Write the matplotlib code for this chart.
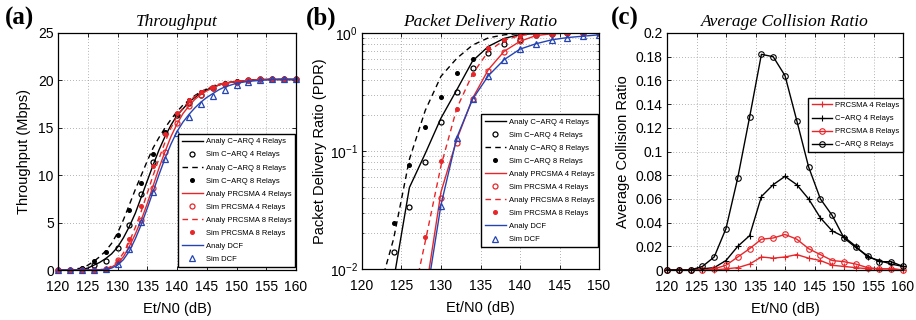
import numpy as np
import matplotlib
matplotlib.use("Agg")
import matplotlib.pyplot as plt
from matplotlib.ticker import LogLocator, NullFormatter

plt.rcParams['font.family'] = ['Liberation Sans', 'DejaVu Sans']
plt.rcParams['mathtext.fontset'] = 'custom'
plt.rcParams['mathtext.rm'] = 'Liberation Sans'

RED = '#e8262a'
BLUE = '#2444b4'
BLK = '#000000'

# ---------------- (a) Throughput ----------------
x_sim_a = [120, 122, 124, 126, 128, 130, 132, 134, 136, 138, 140, 142, 144, 146, 148, 150, 152, 154, 156, 158, 160]
sim_carq4_a = [0, 0, 0.1, 0.5, 1.0, 2.3, 4.7, 8.0, 11.4, 14.4, 16.3, 17.6, 18.5, 19.2, 19.6, 19.8, 20.0, 20.1, 20.1, 20.1, 20.1]
sim_carq8_a = [0, 0, 0.2, 0.9, 1.9, 3.7, 6.3, 9.2, 12.2, 14.6, 16.5, 17.9, 18.8, 19.3, 19.7, 19.9, 20.0, 20.1, 20.1, 20.1, 20.1]
sim_prc4_a = [0, 0, 0, 0, 0.1, 1.1, 2.6, 5.3, 8.7, 12.5, 15.5, 17.3, 18.5, 19.2, 19.6, 19.8, 20.0, 20.1, 20.1, 20.1, 20.1]
sim_prc8_a = [0, 0, 0, 0, 0.1, 1.0, 3.3, 6.8, 11.0, 14.3, 16.6, 17.9, 18.8, 19.3, 19.6, 19.8, 20.0, 20.1, 20.1, 20.1, 20.1]
sim_dcf_a = [0, 0, 0, 0, 0.1, 0.6, 2.2, 5.1, 8.2, 11.7, 14.4, 16.1, 17.5, 18.4, 19.0, 19.5, 19.8, 20.0, 20.1, 20.1, 20.1]

x_ana_a = [120, 122, 124, 125, 126, 127, 128, 129, 130, 131, 132, 133, 134, 135, 136, 137, 138, 139, 140,
           141, 142, 143, 144, 145, 146, 147, 148, 149, 150, 152, 154, 156, 158, 160]
ana_carq4_a = [0, 0, 0.05, 0.2, 0.5, 0.8, 1.2, 1.7, 2.4, 3.4, 4.6, 6.0, 7.7, 9.4, 11.1, 12.7, 14.1, 15.3, 16.3,
               17.0, 17.7, 18.2, 18.7, 19.0, 19.3, 19.5, 19.7, 19.8, 19.9, 20.0, 20.1, 20.1, 20.1, 20.1]
ana_carq8_a = [0, 0.05, 0.2, 0.5, 0.9, 1.4, 2.0, 2.8, 3.9, 5.3, 6.9, 8.5, 10.0, 11.5, 12.9, 14.0, 15.0, 15.9, 16.7,
               17.4, 17.9, 18.4, 18.8, 19.1, 19.4, 19.6, 19.7, 19.8, 19.9, 20.0, 20.1, 20.1, 20.1, 20.1]
ana_prc4_a = [0, 0, 0, 0, 0, 0.02, 0.1, 0.3, 0.7, 1.4, 2.5, 3.8, 5.3, 7.0, 8.9, 10.8, 12.5, 14.1, 15.4,
              16.5, 17.3, 18.0, 18.5, 18.9, 19.2, 19.5, 19.7, 19.8, 19.9, 20.0, 20.1, 20.1, 20.1, 20.1]
ana_prc8_a = [0, 0, 0, 0, 0, 0.03, 0.1, 0.4, 0.9, 1.8, 3.0, 4.5, 6.2, 8.1, 10.0, 11.8, 13.5, 15.0, 16.2,
              17.1, 17.8, 18.3, 18.8, 19.1, 19.4, 19.6, 19.7, 19.8, 19.9, 20.0, 20.1, 20.1, 20.1, 20.1]
ana_dcf_a = [0, 0, 0, 0, 0, 0.01, 0.05, 0.2, 0.5, 1.1, 2.0, 3.3, 4.8, 6.5, 8.3, 10.1, 11.8, 13.3, 14.6,
             15.6, 16.4, 17.1, 17.7, 18.2, 18.6, 19.0, 19.3, 19.5, 19.7, 19.9, 20.0, 20.1, 20.1, 20.1]

# ---------------- (b) Packet Delivery Ratio ----------------
x_b = [120, 122, 124, 126, 128, 130, 132, 134, 136, 138, 140, 142, 144, 146, 148, 150]
ana_carq4_b = [0.0003, 0.0015, 0.008, 0.049, 0.095, 0.19, 0.33, 0.58, 0.77, 0.90, 0.97, 0.99, 1.0, 1.0, 1.0, 1.0]
ana_carq8_b = [0.0012, 0.006, 0.018, 0.085, 0.22, 0.43, 0.61, 0.79, 0.91, 0.965, 0.99, 1.0, 1.0, 1.0, 1.0, 1.0]
ana_prc4_b = [1e-5, 1e-4, 0.0005, 0.0015, 0.006, 0.045, 0.125, 0.28, 0.49, 0.70, 0.85, 0.95, 0.985, 0.997, 1.0, 1.0]
ana_prc8_b = [1e-5, 1e-4, 0.0008, 0.004, 0.017, 0.075, 0.23, 0.45, 0.70, 0.87, 0.95, 0.99, 1.0, 1.0, 1.0, 1.0]
ana_dcf_b = [1e-5, 1e-4, 0.0004, 0.0012, 0.005, 0.035, 0.13, 0.275, 0.435, 0.595, 0.73, 0.81, 0.875, 0.915, 0.94, 0.965]

sim_carq4_b = [0.0003, 0.002, 0.014, 0.0335, 0.081, 0.175, 0.318, 0.505, 0.677, 0.807, 0.867, 0.96, 0.99, 1.0, 1.0, 1.0]
sim_carq8_b = [0.001, 0.005, 0.0245, 0.0755, 0.159, 0.287, 0.458, 0.606, 0.746, 0.867, 0.94, 0.99, 1.0, 1.0, 1.0, 1.0]
sim_prc4_b = [1e-5, 1e-4, 0.0005, 0.0015, 0.006, 0.04, 0.117, 0.277, 0.48, 0.69, 0.85, 0.955, 0.99, 1.0, 1.0, 1.0]
sim_prc8_b = [1e-5, 1e-4, 0.0008, 0.004, 0.0186, 0.083, 0.227, 0.45, 0.746, 0.87, 0.94, 0.99, 1.0, 1.0, 1.0, 1.0]
sim_dcf_b = [1e-5, 1e-4, 0.0004, 0.0012, 0.005, 0.034, 0.13, 0.276, 0.435, 0.594, 0.732, 0.807, 0.878, 0.913, 0.937, 0.967]

# ---------------- (c) Average Collision Ratio ----------------
x_c = [120, 122, 124, 126, 128, 130, 132, 134, 136, 138, 140, 142, 144, 146, 148, 150, 152, 154, 156, 158, 160]
prc4_c = [0, 0, 0, 0, 0, 0.001, 0.002, 0.005, 0.011, 0.010, 0.011, 0.013, 0.010, 0.008, 0.004, 0.003, 0.002, 0.001, 0.001, 0.001, 0]
carq4_c = [0, 0, 0, 0.001, 0.002, 0.008, 0.020, 0.029, 0.062, 0.072, 0.079, 0.072, 0.060, 0.044, 0.033, 0.028, 0.020, 0.011, 0.008, 0.005, 0.003]
prc8_c = [0, 0, 0, 0, 0.001, 0.004, 0.011, 0.018, 0.026, 0.027, 0.030, 0.026, 0.018, 0.013, 0.008, 0.007, 0.005, 0.002, 0.001, 0.001, 0]
carq8_c = [0, 0, 0, 0.003, 0.011, 0.035, 0.078, 0.129, 0.182, 0.180, 0.164, 0.126, 0.087, 0.060, 0.046, 0.027, 0.019, 0.012, 0.007, 0.007, 0.003]

W, H = 916, 320
fig = plt.figure(figsize=(W / 100, H / 100), dpi=100)


def box(l, r, t, b):
    return [l / W, (H - b) / H, (r - l) / W, (b - t) / H]


ax_a = fig.add_axes(box(58, 296, 33, 270))
ax_b = fig.add_axes(box(362, 599, 33, 269))
ax_c = fig.add_axes(box(667, 903, 33, 270))

TICK_FS = 10
LAB_FS = 10.5


def style(ax):
    ax.tick_params(direction='in', length=3, width=0.6, labelsize=TICK_FS, top=True, right=True)
    ax.tick_params(axis='x', pad=7)
    ax.tick_params(axis='y', pad=3)
    ax.tick_params(which='minor', direction='in', length=1.5, width=0.5, top=True, right=True)
    for s in ax.spines.values():
        s.set_linewidth(0.9)
    ax.grid(True, which='major', linestyle=(0, (1, 2.5)), color='#999999', linewidth=0.6)
    ax.set_axisbelow(True)


lw = 1.0
ms = 3.6
leg_kw = dict(fontsize=5.5, frameon=True, fancybox=False, edgecolor='black', framealpha=1,
              handlelength=2.7, labelspacing=0.75, borderpad=0.5, handletextpad=0.4, borderaxespad=0)

# (a)
ax = ax_a
style(ax)
ax.plot(x_ana_a, ana_carq4_a, '-', color=BLK, lw=lw, label='Analy C\u2212ARQ 4 Relays')
ax.plot(x_sim_a, sim_carq4_a, 'o', mfc='none', mec=BLK, ms=ms, mew=0.9, clip_on=False, label='Sim C\u2212ARQ 4 Relays')
ax.plot(x_ana_a, ana_carq8_a, '--', color=BLK, lw=lw, dashes=(4, 3), label='Analy C\u2212ARQ 8 Relays')
ax.plot(x_sim_a, sim_carq8_a, 'o', color=BLK, ms=2.6, clip_on=False, label='Sim C\u2212ARQ 8 Relays')
ax.plot(x_ana_a, ana_prc4_a, '-', color=RED, lw=lw, label='Analy PRCSMA 4 Relays')
ax.plot(x_sim_a, sim_prc4_a, 'o', mfc='none', mec=RED, ms=ms, mew=0.9, clip_on=False, label='Sim PRCSMA 4 Relays')
ax.plot(x_ana_a, ana_prc8_a, '--', color=RED, lw=lw, dashes=(4, 3), label='Analy PRCSMA 8 Relays')
ax.plot(x_sim_a, sim_prc8_a, 'o', color=RED, ms=2.6, clip_on=False, label='Sim PRCSMA 8 Relays')
ax.plot(x_ana_a, ana_dcf_a, '-', color=BLUE, lw=lw, label='Analy DCF')
ax.plot(x_sim_a, sim_dcf_a, '^', mfc='none', mec=BLUE, ms=ms + 0.4, mew=0.9, clip_on=False, label='Sim DCF')
ax.set_xlim(120, 160)
ax.set_ylim(0, 25)
ax.set_xticks(np.arange(120, 161, 5))
ax.set_yticks(np.arange(0, 26, 5))
ax.set_xlabel('Et/N0 (dB)', fontsize=LAB_FS, labelpad=6)
ax.set_ylabel('Throughput (Mbps)', fontsize=LAB_FS, labelpad=5)
ax.legend(loc='lower right', bbox_to_anchor=(0.996, 0.013), **leg_kw).set_zorder(10)

# (b)
ax = ax_b
ax.set_yscale('log')
style(ax)
ax.grid(True, which='minor', axis='y', linestyle=(0, (1, 2.5)), color='#999999', linewidth=0.6)
ax.plot(x_b, ana_carq4_b, '-', color=BLK, lw=lw, label='Analy C\u2212ARQ 4 Relays')
ax.plot(x_b, sim_carq4_b, 'o', mfc='none', mec=BLK, ms=ms, mew=0.9, label='Sim C\u2212ARQ 4 Relays')
ax.plot(x_b, ana_carq8_b, '--', color=BLK, lw=lw, dashes=(4, 3), label='Analy C\u2212ARQ 8 Relays')
ax.plot(x_b, sim_carq8_b, 'o', color=BLK, ms=2.6, label='Sim C\u2212ARQ 8 Relays')
ax.plot(x_b, ana_prc4_b, '-', color=RED, lw=lw, label='Analy PRCSMA 4 Relays')
ax.plot(x_b, sim_prc4_b, 'o', mfc='none', mec=RED, ms=ms, mew=0.9, label='Sim PRCSMA 4 Relays')
ax.plot(x_b, ana_prc8_b, '--', color=RED, lw=lw, dashes=(4, 3), label='Analy PRCSMA 8 Relays')
ax.plot(x_b, sim_prc8_b, 'o', color=RED, ms=2.6, label='Sim PRCSMA 8 Relays')
ax.plot(x_b, ana_dcf_b, '-', color=BLUE, lw=lw, label='Analy DCF')
ax.plot(x_b, sim_dcf_b, '^', mfc='none', mec=BLUE, ms=ms + 0.4, mew=0.9, label='Sim DCF')
ax.set_xlim(120, 150)
ax.set_ylim(0.01, 1)
ax.set_xticks(np.arange(120, 151, 5))
ax.yaxis.set_major_locator(LogLocator(base=10))
ax.yaxis.set_minor_locator(LogLocator(base=10, subs=np.arange(2, 10)))
ax.yaxis.set_minor_formatter(NullFormatter())
ax.set_xlabel('Et/N0 (dB)', fontsize=LAB_FS, labelpad=6)
ax.set_ylabel('Packet Delivery Ratio (PDR)', fontsize=LAB_FS, labelpad=2)
ax.legend(loc='lower right', bbox_to_anchor=(0.996, 0.093), **leg_kw).set_zorder(10)

# (c)
ax = ax_c
style(ax)
ax.plot(x_c, prc4_c, '-+', color=RED, lw=lw, ms=4, mew=0.8, clip_on=False, label='PRCSMA 4 Relays')
ax.plot(x_c, carq4_c, '-+', color=BLK, lw=lw, ms=4, mew=0.8, clip_on=False, label='C\u2212ARQ 4 Relays')
ax.plot(x_c, prc8_c, '-o', color=RED, mfc='none', lw=lw, ms=4, mew=0.8, clip_on=False, label='PRCSMA 8 Relays')
ax.plot(x_c, carq8_c, '-o', color=BLK, mfc='none', lw=lw, ms=4, mew=0.8, clip_on=False, label='C\u2212ARQ 8 Relays')
ax.set_xlim(120, 160)
ax.set_ylim(0, 0.2)
ax.set_xticks(np.arange(120, 161, 5))
ax.set_yticks(np.arange(0, 0.201, 0.02))
ax.set_yticklabels(['0', '0.02', '0.04', '0.06', '0.08', '0.1', '0.12', '0.14', '0.16', '0.18', '0.2'])
ax.set_xlabel('Et/N0 (dB)', fontsize=LAB_FS, labelpad=6)
ax.set_ylabel('Average Collision Ratio', fontsize=LAB_FS, labelpad=4)
leg_c = dict(leg_kw)
leg_c.update(handlelength=2.6, labelspacing=0.75)
ax.legend(loc='upper right', bbox_to_anchor=(1.0, 0.726), **leg_c).set_zorder(10)

# titles and panel labels
for axx, title in [(ax_a, 'Throughput'), (ax_b, 'Packet Delivery Ratio'), (ax_c, 'Average Collision Ratio')]:
    axx.set_title(title, fontsize=12.5, family='Liberation Serif', style='italic', pad=5)

for xpx, lab in [(5, '(a)'), (306, '(b)'), (611, '(c)')]:
    fig.text(xpx / W, 1 - 18 / H, lab, fontsize=18, family='Liberation Serif', weight='bold', va='center', ha='left')

fig.savefig('out.png', dpi=100)
